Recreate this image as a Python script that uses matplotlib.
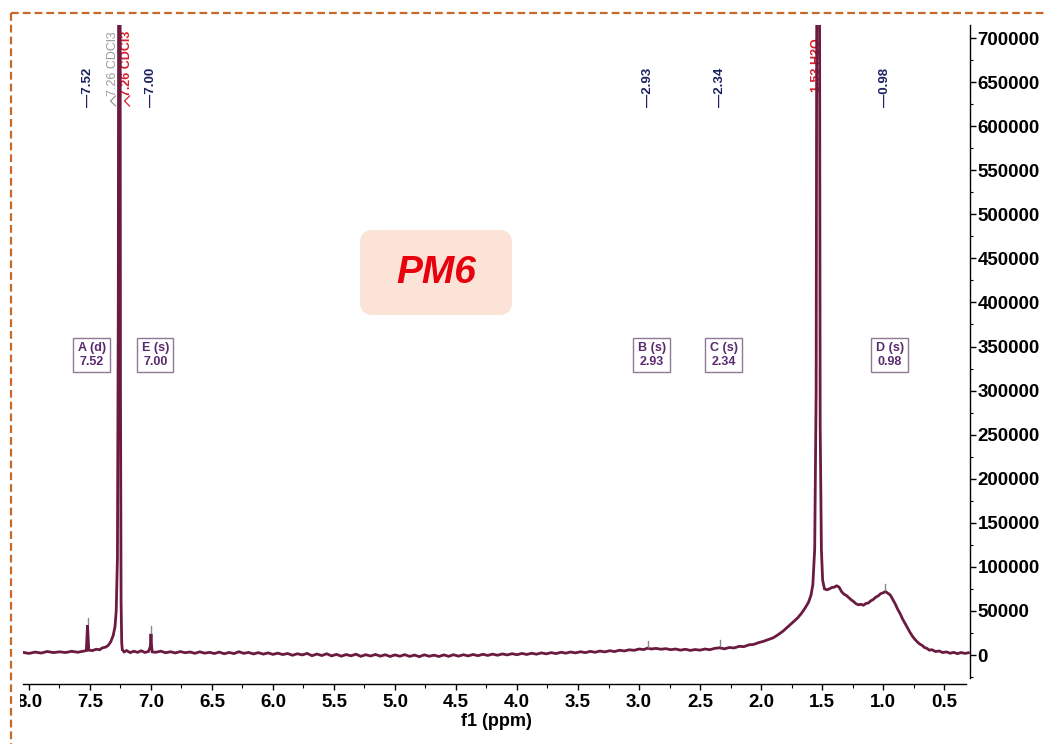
import numpy as np
import matplotlib
matplotlib.use("Agg")
import matplotlib.pyplot as plt
from matplotlib.ticker import MultipleLocator, FuncFormatter
from matplotlib.patches import FancyBboxPatch, Rectangle
from matplotlib.lines import Line2D
import matplotlib.transforms as mtransforms

plt.rcParams['font.family'] = ['Liberation Sans', 'DejaVu Sans']

# ---- 1H NMR trace (chemical shift in ppm, intensity) ----
aromatic_ppm = [8.05, 8.00, 7.95, 7.90, 7.85, 7.80, 7.75, 7.70, 7.65, 7.60, 7.55,
                7.53, 7.525, 7.52, 7.515, 7.51, 7.48, 7.45, 7.42, 7.40, 7.37, 7.35,
                7.33, 7.31, 7.295, 7.285, 7.275, 7.268, 7.262, 7.256, 7.25, 7.245,
                7.24, 7.235, 7.22, 7.20, 7.17, 7.14, 7.11, 7.08, 7.05, 7.02, 7.005,
                7.00, 6.995, 6.99, 6.96, 6.92, 6.88, 6.84, 6.80, 6.76, 6.72, 6.68,
                6.64, 6.60, 6.56, 6.52, 6.48, 6.44, 6.40, 6.36, 6.32, 6.28, 6.24,
                6.20, 6.16, 6.12, 6.08, 6.04]
aromatic_int = [3000, 1800, 3300, 2200, 4000, 2700, 3600, 2800, 4200, 3100, 4400,
                5000, 20000, 34000, 20000, 5500, 5000, 6500, 6000, 8000, 9000, 11000,
                15000, 22000, 32000, 50000, 110000, 400000, 1200000, 1200000, 300000, 60000,
                14000, 6000, 3500, 5000, 2700, 4300, 3000, 4800, 2900, 4000, 10000,
                24000, 10000, 3500, 3100, 4300, 2600, 3700, 2300, 3900, 2600, 3400,
                1900, 3600, 2100, 3000, 1700, 3300, 1400, 2900, 1600, 3700, 1900,
                2900, 1200, 2700, 1000, 2400]

mid_ppm = [6.00, 5.96, 5.92, 5.88, 5.84, 5.80, 5.76, 5.72, 5.68, 5.64, 5.60, 5.56,
           5.52, 5.48, 5.44, 5.40, 5.36, 5.32, 5.28, 5.24, 5.20, 5.16, 5.12, 5.08,
           5.04, 5.00, 4.96, 4.92, 4.88, 4.84, 4.80, 4.76, 4.72, 4.68, 4.64, 4.60,
           4.56, 4.52, 4.48, 4.44, 4.40, 4.36, 4.32, 4.28, 4.24, 4.20, 4.16, 4.12,
           4.08, 4.04, 4.00, 3.96, 3.92, 3.88, 3.84, 3.80, 3.76, 3.72, 3.68, 3.64,
           3.60, 3.56, 3.52, 3.48, 3.44, 3.40, 3.36, 3.32, 3.28, 3.24, 3.20, 3.16,
           3.12, 3.08, 3.04]
mid_int = [700, 2100, 500, 1700, -300, 1400, 100, 1800, -800, 1100, -600, 1400,
           -1000, 700, -1300, 500, -900, 900, -1500, 300, -1100, 600, -1300, 300,
           -1700, 100, -1400, 400, -1600, -100, -1900, 200, -1400, -200, -1700, 100,
           -1500, 300, -1300, 300, -1000, 600, -800, 800, -500, 1000, -300, 1200,
           100, 1500, 300, 1800, 600, 2000, 900, 2400, 1300, 2700, 1600, 3100,
           2100, 3400, 2400, 3700, 2700, 4100, 3100, 4500, 3500, 4900, 3900, 5400,
           4600, 5900, 5300]

aliphatic_ppm = [3.00, 2.96, 2.93, 2.90, 2.86, 2.82, 2.78, 2.74, 2.70, 2.66, 2.62,
                 2.58, 2.54, 2.50, 2.46, 2.42, 2.38, 2.34, 2.30, 2.26, 2.22, 2.18,
                 2.14, 2.10, 2.06, 2.02, 1.98, 1.94, 1.90, 1.86, 1.82, 1.78, 1.74,
                 1.70, 1.67, 1.64, 1.61, 1.59, 1.575, 1.56, 1.548, 1.538, 1.525,
                 1.515, 1.505, 1.495, 1.48, 1.46, 1.44, 1.42, 1.40, 1.38, 1.36, 1.34,
                 1.32, 1.30, 1.28, 1.26, 1.24, 1.22, 1.20, 1.18, 1.16, 1.14, 1.12,
                 1.10, 1.08, 1.06, 1.04, 1.02, 1.00, 0.98, 0.96, 0.94, 0.92, 0.90,
                 0.88, 0.86, 0.84, 0.82, 0.80, 0.78, 0.76, 0.74, 0.72, 0.70, 0.68,
                 0.66, 0.64, 0.62, 0.60, 0.57, 0.54, 0.51, 0.48, 0.45, 0.42, 0.39,
                 0.36, 0.33, 0.30]
aliphatic_int = [6800, 6200, 7800, 6800, 7500, 6500, 7200, 6000, 6800, 5500, 6500,
                 5200, 6200, 5500, 6800, 6000, 7500, 8200, 7000, 8500, 8000, 9800,
                 9500, 11500, 12000, 14000, 15500, 17500, 19500, 23000, 27000, 32000, 37000,
                 42000, 47000, 53000, 60000, 68000, 80000, 120000, 300000, 1200000, 1200000,
                 260000, 120000, 85000, 75000, 74000, 75000, 76500, 77000, 78500, 77000, 72000,
                 69000, 67500, 65000, 62500, 60500, 58000, 57000, 57500, 56500, 58500, 59000,
                 61500, 63000, 65500, 67000, 69500, 70500, 72000, 70000, 68000, 63000, 58000,
                 52000, 47000, 41000, 36000, 31000, 26000, 21500, 18000, 15000, 12500, 11000,
                 8500, 7500, 5500, 6000, 4000, 4500, 2800, 3500, 2000, 3000, 1500,
                 2800, 1800, 2500]

# picked peaks and their heights
peak_shifts = [7.52, 7.00, 2.93, 2.34, 0.98]
peak_heights = [34000, 24000, 7800, 8200, 72000]
peak_labels = ["7.52", "7.00", "2.93", "2.34", "0.98"]

# multiplet annotations
multiplet_names = ["A (d)", "E (s)", "B (s)", "C (s)", "D (s)"]
multiplet_shifts = [7.52, 7.00, 2.93, 2.34, 0.98]

solvent_label = "7.26 CDCl3"
solvent_shift = 7.26
water_label = "1.53 H2O"
water_shift = 1.53

ppm = np.array(aromatic_ppm + mid_ppm + aliphatic_ppm)
intensity = np.array(aromatic_int + mid_int + aliphatic_int)

W, H = 1044, 744
fig = plt.figure(figsize=(W / 100, H / 100), dpi=100)
ax = fig.add_axes([23 / W, 66 / H, 947 / W, 653 / H])

trace_color = '#6b1a40'
ax.plot(ppm, intensity, color=trace_color, lw=2.0, zorder=5, solid_joinstyle='miter')

# peak-pick markers just above each peak top
for s, h in zip(peak_shifts, peak_heights):
    ax.plot([s, s], [h + 1500, h + 8500], color='#8a8a8a', lw=1.0, zorder=6)

ax.set_xlim(8.049, 0.287)
ax.set_ylim(-26094, 714749)

for side in ('top', 'left'):
    ax.spines[side].set_visible(False)
ax.spines['bottom'].set_position(('outward', 4.3))
ax.spines['bottom'].set_bounds(8.049, 0.32)
ax.spines['bottom'].set_linewidth(1.0)
ax.spines['right'].set_linewidth(1.0)

ax.xaxis.set_major_locator(MultipleLocator(0.5))
ax.xaxis.set_minor_locator(MultipleLocator(0.25))
ax.xaxis.set_major_formatter(FuncFormatter(lambda v, p: f"{v:.1f}"))
ax.yaxis.tick_right()
ax.yaxis.set_major_locator(MultipleLocator(50000))
ax.yaxis.set_minor_locator(MultipleLocator(25000))
ax.yaxis.set_major_formatter(FuncFormatter(lambda v, p: f"{int(round(v))}"))

ax.tick_params(axis='x', which='major', length=4, width=1, pad=3.5,
               labelsize=13.5, direction='out')
ax.tick_params(axis='x', which='minor', length=3, width=0.8, direction='out')
ax.tick_params(axis='y', which='major', length=4, width=1, pad=1.5,
               labelsize=13.5, direction='out', right=True, left=False)
ax.tick_params(axis='y', which='minor', length=2.5, width=0.8, direction='out',
               right=True, left=False)
for lab in ax.get_xticklabels() + ax.get_yticklabels():
    lab.set_fontweight('bold')

ax.set_xlabel("f1 (ppm)", fontsize=13, fontweight='bold', labelpad=1)

xa = mtransforms.blended_transform_factory(ax.transData, ax.transAxes)

# chemical shift labels at the top
for s, t in zip(peak_shifts, peak_labels):
    ax.text(s, 0.874, "\u2014" + t, transform=xa, rotation=90, ha='center', va='bottom',
            fontsize=9.5, fontweight='bold', color='#1c2160', zorder=7)

# solvent and water reference labels
ax.text(7.311, 0.892, solvent_label, transform=xa, rotation=90, ha='center', va='bottom',
        fontsize=9, color='#9a9a9a', zorder=4)
ax.text(7.197, 0.892, solvent_label, transform=xa, rotation=90, ha='center', va='bottom',
        fontsize=9, fontweight='bold', color='#d81e2c', zorder=4)
ax.text(water_shift + 0.01, 0.897, water_label, transform=xa, rotation=90, ha='center',
        va='bottom', fontsize=9, fontweight='bold', color='#e01a24', zorder=4)

# small connector brackets under the solvent labels
def fig_px(x, y):
    return (x / W, 1 - y / H)

for bx, col in ((113, '#9a9a9a'), (127, '#d81e2c')):
    pts = [fig_px(bx + 2.5, 96), fig_px(bx - 2.5, 101), fig_px(bx + 2.5, 106)]
    fig.add_artist(Line2D([p[0] for p in pts], [p[1] for p in pts],
                          transform=fig.transFigure, color=col, lw=0.9, zorder=4))

# multiplet boxes
for name, s in zip(multiplet_names, multiplet_shifts):
    ax.text(s - 0.035, 0.4946, f"{name}\n{s:.2f}", transform=xa, ha='center', va='center',
            multialignment='center', fontsize=9, fontweight='bold', color='#5a2a6e',
            linespacing=1.15, zorder=8,
            bbox=dict(boxstyle='square,pad=0.35', facecolor='white',
                      edgecolor='#8e7a94', linewidth=1.0))

# sample label
fig.add_artist(FancyBboxPatch((3.60, (H - 315) / 100), 1.52, 0.85,
                              boxstyle='round,pad=0,rounding_size=0.13',
                              transform=fig.dpi_scale_trans, facecolor='#fbe4d7',
                              edgecolor='none', zorder=3))
fig.text(4.36, (H - 273) / 100, "PM6", transform=fig.dpi_scale_trans, ha='center',
         va='center', fontsize=28, fontstyle='italic', fontweight='bold',
         color='#e8000e', zorder=9)

# page edge: mask and dashed frame
fig.add_artist(Rectangle((0, 0), 20 / W, 1, transform=fig.transFigure,
                         facecolor='white', edgecolor='none', zorder=20))
frame_kw = dict(transform=fig.transFigure, color='#c8692a', lw=1.6,
                linestyle=(0, (3.5, 1.8)), zorder=21)
fig.add_artist(Line2D([11 / W, 1.0], [1 - 13 / H, 1 - 13 / H], **frame_kw))
fig.add_artist(Line2D([11 / W, 11 / W], [1 - 13 / H, 0.0], **frame_kw))

fig.savefig("out.png", dpi=100)
